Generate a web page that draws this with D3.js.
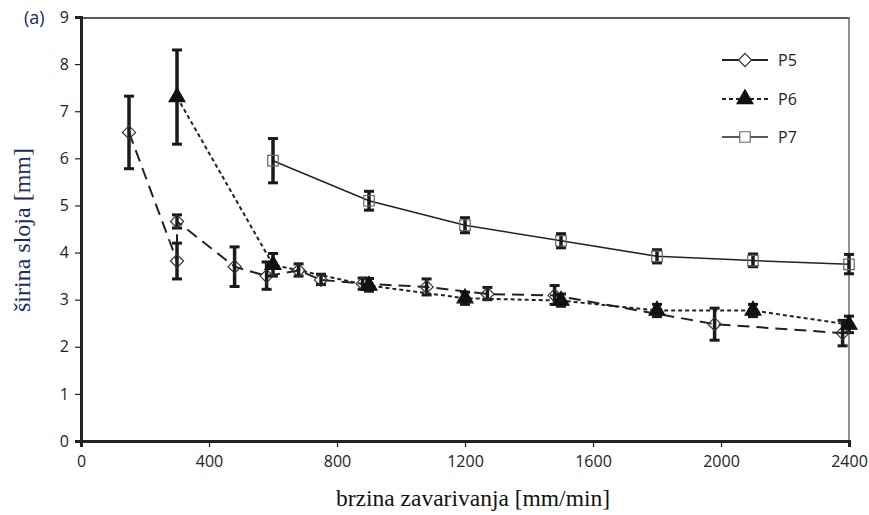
<!DOCTYPE html>
<html><head><meta charset="utf-8">
<script src="https://cdn.jsdelivr.net/npm/d3@7/dist/d3.min.js"></script>
<style>body{margin:0;background:#fff}</style>
</head><body><svg id="c" width="869" height="515"></svg>
<script>
const xTicks=[0,400,800,1200,1600,2000,2400];
const yTicks=[0,1,2,3,4,5,6,7,8,9];
// P5
const p5X=[150,300,300,480,580,680,750,880,1080,1270,1480,1980,2380];
const p5Y=[6.55,3.82,4.66,3.70,3.50,3.62,3.42,3.34,3.27,3.12,3.09,2.48,2.29];
const p5Lo=[5.78,3.44,4.52,3.28,3.22,3.50,3.32,3.22,3.10,3.00,2.90,2.14,2.02];
const p5Hi=[7.32,4.20,4.80,4.12,3.80,3.76,3.54,3.46,3.44,3.26,3.30,2.82,2.56];
// P6
const p6X=[300,600,900,1200,1500,1800,2100,2400];
const p6Y=[7.30,3.74,3.30,3.03,2.98,2.77,2.77,2.47];
const p6Lo=[6.30,3.50,3.18,2.90,2.86,2.64,2.64,2.30];
const p6Hi=[8.30,3.98,3.45,3.16,3.12,2.90,2.90,2.65];
// P7
const p7X=[600,900,1200,1500,1800,2100,2400];
const p7Y=[5.95,5.10,4.58,4.25,3.92,3.83,3.75];
const p7Lo=[5.48,4.90,4.42,4.10,3.78,3.70,3.55];
const p7Hi=[6.42,5.30,4.74,4.40,4.06,3.97,3.96];
const seriesNames=["P5","P6","P7"];

const svg=d3.select("#c");
const L=81,R=849,T=17,B=441;
const x=d3.scaleLinear().domain([0,2400]).range([L,R]);
const y=d3.scaleLinear().domain([0,9]).range([B,T]);
const tickFont="'Open Sans', 'Noto Sans', sans-serif";

// frame
svg.append("line").attr("x1",L).attr("x2",R).attr("y1",y(9)+1).attr("y2",y(9)+1).attr("stroke","#222").attr("stroke-width",1.3);
svg.append("line").attr("x1",R).attr("x2",R).attr("y1",T).attr("y2",B).attr("stroke","#555").attr("stroke-width",1.3);

const ya=svg.append("g").attr("transform",`translate(${L},0)`).call(d3.axisLeft(y).tickValues(yTicks).tickSize(6).tickPadding(6).tickFormat(d3.format("d")));
ya.select(".domain").attr("stroke","#222").attr("stroke-width",3);
ya.selectAll(".tick line").attr("stroke","#222").attr("stroke-width",1.2);
ya.selectAll("text").attr("font-family",tickFont).attr("font-size",16).attr("fill","#222");

const xa=svg.append("g").attr("transform",`translate(0,${B})`).call(d3.axisBottom(x).tickValues(xTicks).tickSize(6).tickPadding(9).tickFormat(d3.format("d")));
xa.select(".domain").attr("stroke","#222").attr("stroke-width",3);
xa.selectAll(".tick line").attr("stroke","#222").attr("stroke-width",1.2);
xa.selectAll("text").attr("font-family",tickFont).attr("font-size",16).attr("fill","#222");

svg.append("text").attr("x",473).attr("y",506).attr("text-anchor","middle").attr("font-family","'Liberation Serif', serif").attr("font-size",23.5).attr("fill","#111").text("brzina zavarivanja [mm/min]");
svg.append("text").attr("transform","translate(30,230) rotate(-90)").attr("text-anchor","middle").attr("font-family","'Liberation Serif', serif").attr("font-size",24).attr("fill","#1c2a5c").text("širina sloja [mm]");
svg.append("text").attr("x",24).attr("y",24).attr("font-family",tickFont).attr("font-size",18).attr("fill","#1c2a5c").text("(a)");

function mk(X,Y,Lo,Hi){return X.map((v,i)=>({x:v,y:Y[i],lo:Lo[i],hi:Hi[i]}));}
const d5=mk(p5X,p5Y,p5Lo,p5Hi), d6=mk(p6X,p6Y,p6Lo,p6Hi), d7=mk(p7X,p7Y,p7Lo,p7Hi);
const line=d3.line().x(d=>x(d.x)).y(d=>y(d.y));

svg.append("path").datum(d5).attr("d",line).attr("fill","none").attr("stroke","#222").attr("stroke-width",2).attr("stroke-dasharray","12,7");
svg.append("path").datum(d6).attr("d",line).attr("fill","none").attr("stroke","#222").attr("stroke-width",2).attr("stroke-dasharray","4,3");
svg.append("path").datum(d7).attr("d",line).attr("fill","none").attr("stroke","#222").attr("stroke-width",1.5);

function errbars(data){
  const g=svg.append("g").attr("stroke","#1a1a1a");
  data.forEach(d=>{
    g.append("line").attr("x1",x(d.x)).attr("x2",x(d.x)).attr("y1",y(d.lo)).attr("y2",y(d.hi)).attr("stroke-width",3.5);
    [d.lo,d.hi].forEach(v=>g.append("line").attr("x1",x(d.x)-5).attr("x2",x(d.x)+5).attr("y1",y(v)).attr("y2",y(v)).attr("stroke-width",3));
  });
}
errbars(d5);errbars(d6);errbars(d7);

const diamond=d3.symbol().type(d3.symbolDiamond2).size(110);
const tri=d3.symbol().type(d3.symbolTriangle).size(110);
const sq=d3.symbol().type(d3.symbolSquare).size(110);
function markers(data,sym,fill,stroke){
  svg.append("g").selectAll("path").data(data).join("path")
   .attr("transform",d=>`translate(${x(d.x)},${y(d.y)})`).attr("d",sym)
   .attr("fill",fill).attr("stroke",stroke).attr("stroke-width",1.2);
}
markers(d5,diamond,"none","#333");
markers(d6,tri,"#111","#111");
markers(d7,sq,"none","#666");

// legend
const leg=[{n:seriesNames[0],y:60,dash:"none",w:1.8,sym:diamond,fill:"#fff",st:"#333"},
           {n:seriesNames[1],y:99,dash:"4,3",w:1.8,sym:tri,fill:"#111",st:"#111"},
           {n:seriesNames[2],y:137,dash:"none",w:1.5,sym:sq,fill:"#fff",st:"#666"}];
leg.forEach(l=>{
  svg.append("line").attr("x1",722).attr("x2",768).attr("y1",l.y).attr("y2",l.y).attr("stroke","#222").attr("stroke-width",l.w).attr("stroke-dasharray",l.dash);
  svg.append("path").attr("transform",`translate(745,${l.y})`).attr("d",l.sym).attr("fill",l.fill).attr("stroke",l.st).attr("stroke-width",1.2);
  svg.append("text").attr("x",778).attr("y",l.y+6).attr("font-family",tickFont).attr("font-size",16).attr("fill","#222").text(l.n);
});
</script></body></html>
